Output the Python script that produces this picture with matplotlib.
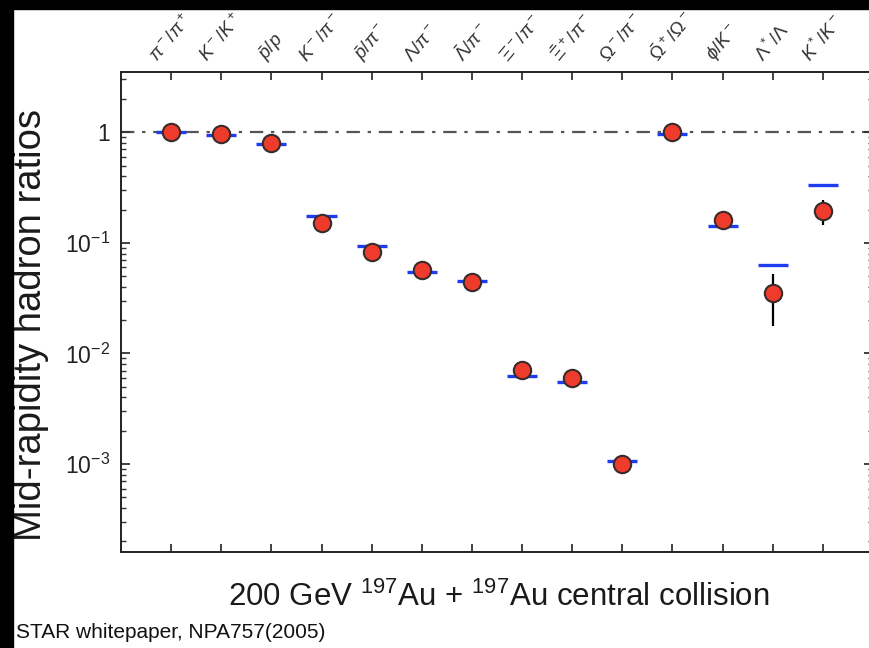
import numpy as np
import matplotlib.pyplot as plt
from matplotlib.patches import Rectangle
from matplotlib.ticker import LogLocator, NullFormatter

# ratio names along the top axis
ratio_labels = [r'$\pi^-/\pi^+$', r'$K^-/K^+$', r'$\bar{p}/p$', r'$K^-/\pi^-$',
                r'$\bar{p}/\pi^-$', r'$\Lambda/\pi^-$', r'$\bar{\Lambda}/\pi^-$',
                r'$\Xi^-/\pi^-$', r'$\bar{\Xi}^+/\pi^-$', r'$\Omega^-/\pi^-$',
                r'$\bar{\Omega}^+/\Omega^-$', r'$\phi/K^-$', r'$\Lambda^*/\Lambda$',
                r'$K^*/K^-$']

# measured ratios (red points)
data_values = [1.0, 0.96, 0.795, 0.151, 0.0826, 0.0572, 0.0442,
               0.0071, 0.00603, 0.00099, 1.0, 0.16, 0.0351, 0.193]
# error bar ends (None = bar hidden by the marker)
data_lower = [None, None, None, None, None, None, None,
              None, None, None, None, None, 0.0176, 0.144]
data_upper = [None, None, None, None, None, None, None,
              None, None, None, None, None, 0.0519, 0.243]

# statistical model values (blue dashes)
model_values = [1.0, 0.94, 0.78, 0.174, 0.0935, 0.054, 0.045,
                0.00624, 0.0055, 0.00106, 0.97, 0.141, 0.0625, 0.333]

y_ticks = [1e-3, 1e-2, 1e-1, 1]
y_tick_labels = [r'$10^{-3}$', r'$10^{-2}$', r'$10^{-1}$', '1']


def plot_hadron_ratios():
    plt.rcParams['font.family'] = ['Liberation Sans', 'DejaVu Sans']
    plt.rcParams['mathtext.fontset'] = 'custom'
    plt.rcParams['mathtext.rm'] = 'Liberation Sans'
    plt.rcParams['mathtext.it'] = 'Liberation Sans:italic'
    plt.rcParams['mathtext.bf'] = 'Liberation Sans:bold'

    fig = plt.figure(figsize=(8.69, 6.48), dpi=100)
    ax = fig.add_axes([0.1392, 0.1481, 0.8654, 0.7407])

    x = np.arange(1, len(data_values) + 1)
    vals = np.array(data_values)

    # dash-dot reference line at 1
    ax.axhline(1.0, color='#555555', lw=1.6, dashes=(6, 3.5, 1.5, 3.5), zorder=1)

    # model dashes
    ax.hlines(model_values, x - 0.3, x + 0.3, colors='#1f3cf0', lw=2.4, zorder=2)

    # error bars where visible
    for xi, v, lo, hi in zip(x, data_values, data_lower, data_upper):
        if lo is not None:
            ax.vlines(xi, lo, hi, colors='black', lw=1.6, zorder=3)

    ax.plot(x, vals, 'o', ms=12.5, mfc='#ee3b2b', mec='#3a2b2b', mew=1.5, zorder=4)

    ax.set_yscale('log')
    ax.set_ylim(1.6e-4, 3.5)
    ax.set_xlim(0, 15)

    ax.set_yticks(y_ticks)
    ax.set_yticklabels(y_tick_labels, fontsize=16.5, color='#222222')
    ax.yaxis.set_minor_locator(LogLocator(base=10, subs=np.arange(2, 10), numticks=20))
    ax.yaxis.set_minor_formatter(NullFormatter())

    ax.set_xticks(x)
    ax.set_xticklabels(ratio_labels, rotation=50, ha='center', va='bottom',
                       fontsize=13.5, color='#333333')

    ax.tick_params(axis='x', which='both', top=True, bottom=True,
                   labeltop=True, labelbottom=False, direction='in',
                   length=6, width=1.3, pad=5, color='#333333')
    ax.tick_params(axis='y', which='major', left=True, right=True,
                   direction='in', length=6.5, width=1.3, pad=8, color='#333333')
    ax.tick_params(axis='y', which='minor', left=True, right=True,
                   direction='in', length=3.5, width=1.0, color='#333333')
    for sp in ax.spines.values():
        sp.set_color('#222222')
        sp.set_linewidth(1.4)

    fig.text(13 / 869, 1 - 325 / 648, 'Mid-rapidity hadron ratios', rotation=90,
             ha='left', va='center', fontsize=27.5, color='#1a1a1a')
    fig.text(499 / 869, 1 - 597 / 648,
             r'200 GeV $^{197}$Au + $^{197}$Au central collision',
             ha='center', va='center', fontsize=22.5, color='#1a1a1a')
    fig.text(16 / 869, 1 - 632 / 648, 'STAR whitepaper, NPA757(2005)',
             ha='left', va='center', fontsize=15, color='#111111')

    # black frame strips on top and left edges
    fig.add_artist(Rectangle((0, 1 - 9 / 648), 1, 9 / 648, transform=fig.transFigure,
                             color='black', zorder=10))
    fig.add_artist(Rectangle((0, 0), 13 / 869, 1, transform=fig.transFigure,
                             color='black', zorder=10))

    fig.savefig('out.png', dpi=100)


if __name__ == '__main__':
    plot_hadron_ratios()
